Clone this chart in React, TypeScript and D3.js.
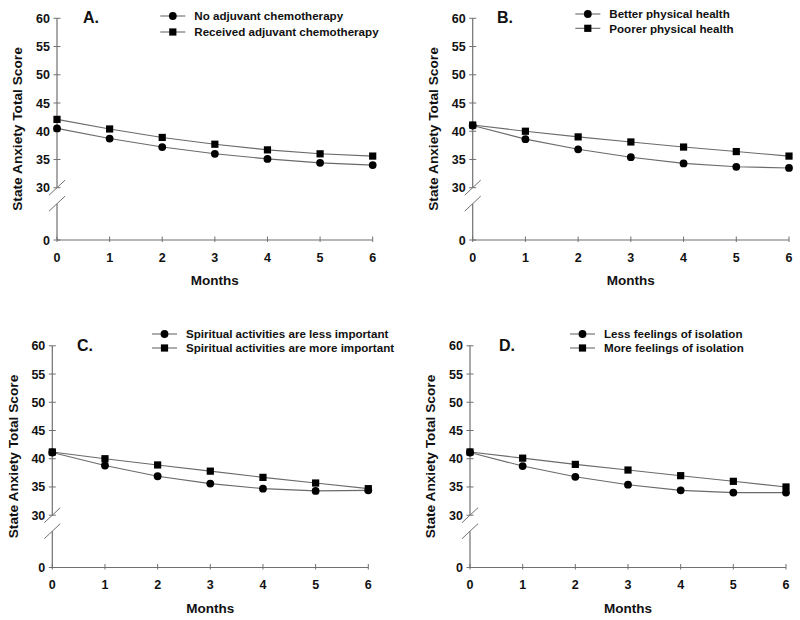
import React from "react";
import * as d3 from "d3";

const months = [0, 1, 2, 3, 4, 5, 6];
const yTicks = [0, 30, 35, 40, 45, 50, 55, 60];

const panelLetters = ["A.", "B.", "C.", "D."];
const circleLabels = [
  "No adjuvant chemotherapy",
  "Better physical health",
  "Spiritual activities are less important",
  "Less feelings of isolation",
];
const squareLabels = [
  "Received adjuvant chemotherapy",
  "Poorer physical health",
  "Spiritual activities are more important",
  "More feelings of isolation",
];

const aNoChemo = [40.5, 38.7, 37.2, 36.0, 35.1, 34.4, 34.0];
const aChemo = [42.1, 40.4, 38.9, 37.7, 36.7, 36.0, 35.6];
const bBetter = [41.0, 38.6, 36.8, 35.4, 34.3, 33.7, 33.5];
const bPoorer = [41.1, 40.0, 39.0, 38.1, 37.2, 36.4, 35.6];
const cLess = [41.1, 38.8, 36.9, 35.6, 34.7, 34.3, 34.4];
const cMore = [41.2, 40.0, 38.9, 37.8, 36.7, 35.7, 34.7];
const dLess = [41.1, 38.7, 36.8, 35.4, 34.4, 34.0, 34.0];
const dMore = [41.2, 40.1, 39.0, 38.0, 37.0, 36.0, 35.0];

const circleSeries = [aNoChemo, bBetter, cLess, dLess];
const squareSeries = [aChemo, bPoorer, cMore, dMore];

// layout (positions only)
const layouts = [
  { ax: 57, x6: 372.7, dy: 0, textX: 194.3, leg: [16, 32] },
  { ax: 472.7, x6: 789, dy: 0, textX: 609.3, leg: [14, 28.3] },
  { ax: 52.3, x6: 368.3, dy: 327.5, textX: 186, leg: [334, 348] },
  { ax: 470, x6: 786, dy: 327.5, textX: 604, leg: [334, 348] },
];
const letterX = [83, 497, 77, 499];

const FONT = "'Liberation Sans', Arial, Helvetica, sans-serif";
const AXIS = "#707070";
const LINE = "#6a6a6a";

function Marker({ kind, x, y }: { kind: string; x: number; y: number }) {
  if (kind === "circle") return <circle cx={x} cy={y} r={3.9} fill="#000" />;
  return <rect x={x - 3.6} y={y - 3.6} width={7.2} height={7.2} fill="#000" />;
}

function Panel({ i }: { i: number }) {
  const L = layouts[i];
  const y60 = 18.3 + L.dy;
  const y30 = 187.7 + L.dy;
  const y0 = 240 + L.dy;
  const x = d3.scaleLinear().domain([0, 6]).range([L.ax, L.x6]);
  const y = d3.scaleLinear().domain([0, 30, 60]).range([y0, y30, y60]);
  const line = d3
    .line<number>()
    .x((_, j) => x(months[j]))
    .y((v) => y(v));
  const gapBottom = y30 + 16;
  const series = [
    { data: squareSeries[i], kind: "square" },
    { data: circleSeries[i], kind: "circle" },
  ];
  const legendItems = [
    { label: circleLabels[i], kind: "circle" },
    { label: squareLabels[i], kind: "square" },
  ];
  return (
    <g>
      {/* y axis with break */}
      <line x1={L.ax} x2={L.ax} y1={y60} y2={y30} stroke={AXIS} strokeWidth={1.2} />
      <line x1={L.ax} x2={L.ax} y1={gapBottom} y2={y0} stroke={AXIS} strokeWidth={1.2} />
      {[y30, gapBottom].map((yy, k) => (
        <line key={k} x1={L.ax - 8} y1={yy + 7.5} x2={L.ax + 8} y2={yy - 7.5} stroke={AXIS} strokeWidth={1} />
      ))}
      {yTicks.map((t) => (
        <g key={t}>
          <line x1={L.ax - 3.5} x2={L.ax + 3.5} y1={y(t)} y2={y(t)} stroke={AXIS} strokeWidth={1} />
          <text x={L.ax - 7} y={y(t) + 4.5} textAnchor="end" fontSize={12.5} fontWeight="bold" fontFamily={FONT} fill="#111">
            {t}
          </text>
        </g>
      ))}
      {/* x axis */}
      <line x1={L.ax} x2={L.x6} y1={y0} y2={y0} stroke={AXIS} strokeWidth={1.2} />
      {months.map((m) => (
        <g key={m}>
          <line x1={x(m)} x2={x(m)} y1={y0 - 3.5} y2={y0 + 2} stroke={AXIS} strokeWidth={1} />
          <text x={x(m)} y={y0 + 21.5} textAnchor="middle" fontSize={12.5} fontWeight="bold" fontFamily={FONT} fill="#111">
            {m}
          </text>
        </g>
      ))}
      <text x={(L.ax + L.x6) / 2} y={y0 + 45} textAnchor="middle" fontSize={13.5} fontWeight="bold" fontFamily={FONT} fill="#111">
        Months
      </text>
      <text
        transform={`translate(${L.ax - 39.5},${129 + L.dy}) rotate(-90)`}
        textAnchor="middle"
        dy="0.36em"
        fontSize={13.7}
        fontWeight="bold"
        fontFamily={FONT}
        fill="#111"
      >
        State Anxiety Total Score
      </text>
      {/* letter */}
      <text x={letterX[i]} y={23.3 + L.dy} fontSize={16} fontWeight="bold" fontFamily={FONT} fill="#111">
        {panelLetters[i]}
      </text>
      {/* series */}
      {series.map((s, k) => (
        <g key={k}>
          <path d={line(s.data) || ""} fill="none" stroke={LINE} strokeWidth={1.1} />
          {s.data.map((v, j) => (
            <Marker key={j} kind={s.kind} x={x(months[j])} y={y(v)} />
          ))}
        </g>
      ))}
      {/* legend */}
      {legendItems.map((it, k) => (
        <g key={k}>
          <line x1={L.textX - 34} x2={L.textX - 9} y1={L.leg[k]} y2={L.leg[k]} stroke={LINE} strokeWidth={1.1} />
          <Marker kind={it.kind} x={L.textX - 21.5} y={L.leg[k]} />
          <text x={L.textX} y={L.leg[k] + 4.2} fontSize={11.6} fontWeight="bold" fontFamily={FONT} fill="#111">
            {it.label}
          </text>
        </g>
      ))}
    </g>
  );
}

export default function App() {
  return (
    <svg
      width={800}
      height={620}
      style={{ position: "absolute", left: 0, top: 0, background: "#fff" }}
    >
      <rect width={800} height={620} fill="#fff" />
      {[0, 1, 2, 3].map((i) => (
        <Panel key={i} i={i} />
      ))}
    </svg>
  );
}
